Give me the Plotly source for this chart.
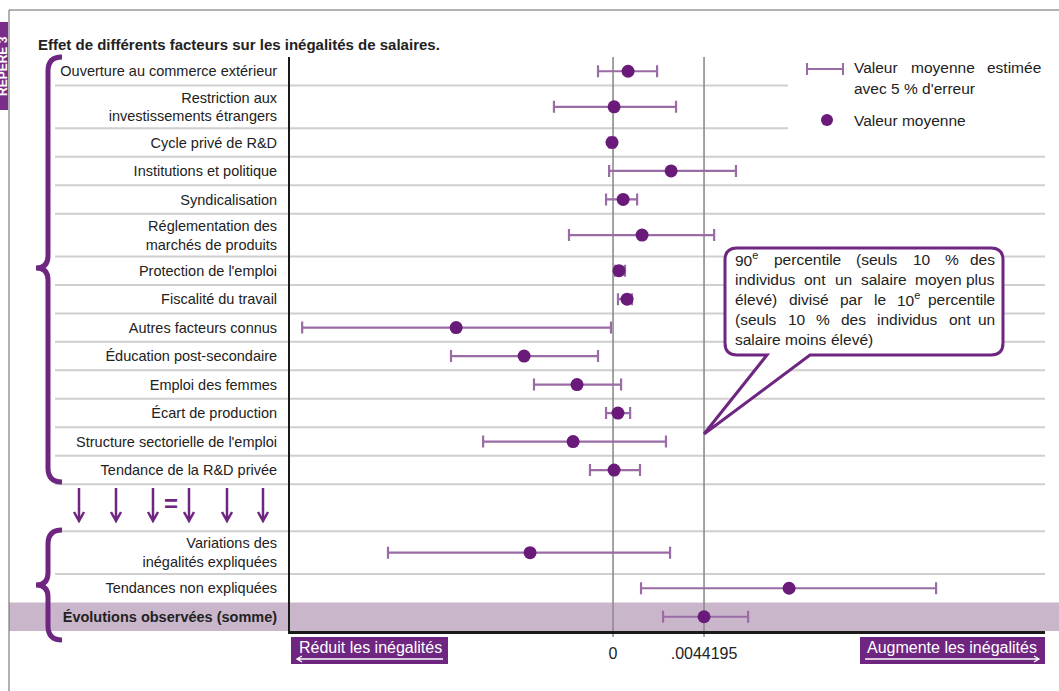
import plotly.graph_objects as go

# ---- data -------------------------------------------------------------
factor_labels = [
    "Ouverture au commerce extérieur",
    "Restriction aux<br>investissements étrangers",
    "Cycle privé de R&D",
    "Institutions et politique",
    "Syndicalisation",
    "Réglementation des<br>marchés de produits",
    "Protection de l'emploi",
    "Fiscalité du travail",
    "Autres facteurs connus",
    "Éducation post-secondaire",
    "Emploi des femmes",
    "Écart de production",
    "Structure sectorielle de l'emploi",
    "Tendance de la R&D privée",
]
factor_mean = [0.00073, 0.00005, -0.00005, 0.00282, 0.00049, 0.00141, 0.00029,
               0.00068, -0.00762, -0.00432, -0.00175, 0.00024, -0.00194, 0.00005]
factor_low = [-0.00073, -0.00287, -0.00019, -0.00019, -0.00034, -0.00214, 0.00010,
              0.00024, -0.01510, -0.00787, -0.00384, -0.00034, -0.00631, -0.00112]
factor_high = [0.00214, 0.00306, 0.00010, 0.00597, 0.00117, 0.00491, 0.00058,
               0.00092, -0.00010, -0.00073, 0.00039, 0.00083, 0.00257, 0.00131]

summary_labels = [
    "Variations des<br>inégalités expliquées",
    "Tendances non expliquées",
    "<b>Évolutions observées (somme)</b>",
]
summary_mean = [-0.00403, 0.00855, 0.0044195]
summary_low = [-0.01093, 0.00136, 0.00243]
summary_high = [0.00277, 0.01569, 0.00656]

tick_values = [0, 0.0044195]
tick_text = ["0", ".0044195"]

bubble_lines = [
    ["90<sup>e</sup>", "percentile", "(seuls", "10", "%", "des"],
    ["individus", "ont", "un", "salaire", "moyen", "plus"],
    ["élevé)", "divisé", "par", "le", "10<sup>e</sup>", "percentile"],
    ["(seuls", "10", "%", "des", "individus", "ont", "un"],
    ["salaire", "moins", "élevé)"],
]

# ---- layout helpers -----------------------------------------------------
W, H = 1059, 691
L, R, T, B = 290, 1045, 57, 631          # plot area in pixels

# relative row heights (two-line labels are taller, the arrow row taller still)
factor_span = [1, 1.5, 1, 1, 1, 1.5, 1, 1, 1, 1, 1, 1, 1, 1]
arrow_span = 1.65
summary_span = [1.5, 1, 1]

spans = factor_span + [arrow_span] + summary_span
bounds = [0.0]
for s in spans:
    bounds.append(bounds[-1] + s)
total = bounds[-1]
centers = [(bounds[i] + bounds[i + 1]) / 2 for i in range(len(spans))]
n_f = len(factor_span)
factor_y = centers[:n_f]
summary_y = centers[n_f + 1:]


def fx(xp):
    return (xp - L) / (R - L)


def fy(yp):
    return (B - yp) / (B - T)


def fu(u):
    return 1 - u / total


def path(cmds):
    out = []
    for c in cmds:
        if isinstance(c, str):
            out.append(c)
        else:
            out.append(f"{fx(c[0]):.5f},{fy(c[1]):.5f}")
    return " ".join(out)


# Arial / Liberation Sans advance widths (1/1000 em) for justified text
ADV = {" ": 278, "(": 333, ")": 333, "%": 889, "'": 191, "é": 556, "è": 556,
       "f": 278, "i": 222, "j": 222, "l": 222, "m": 833, "r": 333, "t": 278,
       "c": 500, "k": 500, "s": 500, "v": 500, "x": 500, "y": 500, "z": 500, "w": 722}


def word_width(word, size):
    sup = 0.0
    if "<sup>" in word:
        base, rest = word.split("<sup>")
        sup = sum(ADV.get(ch, 556) for ch in rest.replace("</sup>", "")) * 0.7
        word = base
    return (sum(ADV.get(ch, 556) for ch in word) + sup) * size / 1000


DOT = "#6a1b7a"
BAR = "#9a6ca6"
PURPLE = "#6e2681"
BAND = "#cab6cb"
GRID = "#cfcfcf"
FONT = "Liberation Sans, Arial, Helvetica, sans-serif"

fig = go.Figure()

all_mean = factor_mean + summary_mean
all_low = factor_low + summary_low
all_high = factor_high + summary_high
all_y = factor_y + summary_y

fig.add_trace(go.Scatter(
    x=all_mean, y=all_y, mode="markers",
    marker=dict(size=13, color=DOT),
    error_x=dict(type="data", symmetric=False,
                 array=[h - m for h, m in zip(all_high, all_mean)],
                 arrayminus=[m - lo for m, lo in zip(all_mean, all_low)],
                 color=BAR, thickness=2.2, width=6),
    showlegend=False, hoverinfo="x",
))

shapes = []
# highlighted total row
shapes.append(dict(type="rect", xref="paper", yref="paper", layer="below",
                   x0=fx(9), x1=fx(W + 2), y0=fu(bounds[-2]), y1=fu(bounds[-1]),
                   fillcolor=BAND, line_width=0))
# row separators
for i, b in enumerate(bounds[1:-2], start=1):
    x_end = fx(788) if i <= 2 else 1
    shapes.append(dict(type="line", xref="paper", yref="paper", layer="below",
                       x0=fx(55), x1=x_end, y0=fu(b), y1=fu(b),
                       line=dict(color=GRID, width=2)))
# vertical reference lines at 0 and the observed total
for v in tick_values:
    shapes.append(dict(type="line", xref="x", yref="paper", layer="below",
                       x0=v, x1=v, y0=-0.01, y1=1,
                       line=dict(color="#8c8c8c", width=1.6)))


# curly braces
def brace(y0, ym, y1):
    return path(["M", (62, y0), "Q", (48, y0), (48, y0 + 14), "L", (48, ym - 12),
                 "Q", (48, ym), (36, ym), "Q", (48, ym), (48, ym + 12),
                 "L", (48, y1 - 14), "Q", (48, y1), (62, y1)])


shapes.append(dict(type="path", xref="paper", yref="paper",
                   path=brace(57, 268, 482), line=dict(color=PURPLE, width=5)))
shapes.append(dict(type="path", xref="paper", yref="paper",
                   path=brace(530, 585, 640), line=dict(color=PURPLE, width=5)))

# down arrows between the two groups
for ax in [79, 116, 153, 189, 227, 263]:
    shapes.append(dict(type="path", xref="paper", yref="paper",
                       path=path(["M", (ax, 488), "L", (ax, 521), "M", (ax - 5, 512),
                                  "L", (ax, 521), "L", (ax + 5, 512)]),
                       line=dict(color=PURPLE, width=2.5)))

# legend marks
shapes.append(dict(type="path", xref="paper", yref="paper",
                   path=path(["M", (807, 69), "L", (843, 69), "M", (807, 63), "L", (807, 75),
                              "M", (843, 63), "L", (843, 75)]),
                   line=dict(color=BAR, width=2)))
shapes.append(dict(type="circle", xref="paper", yref="paper",
                   x0=fx(821), x1=fx(833), y0=fy(126), y1=fy(114),
                   fillcolor=DOT, line_width=0))

# speech bubble
bx0, bx1, by0, by1, r = 725, 1003, 248, 355, 12
bubble = path([
    "M", (bx0 + r, by0), "L", (bx1 - r, by0), "Q", (bx1, by0), (bx1, by0 + r),
    "L", (bx1, by1 - r), "Q", (bx1, by1), (bx1 - r, by1),
    "L", (810, by1), "L", (704, 434), "L", (767, by1),
    "L", (bx0 + r, by1), "Q", (bx0, by1), (bx0, by1 - r),
    "L", (bx0, by0 + r), "Q", (bx0, by0), (bx0 + r, by0), "Z"])
shapes.append(dict(type="path", xref="paper", yref="paper", layer="above",
                   path=bubble, fillcolor="white", line=dict(color=PURPLE, width=3)))

# direction boxes under the axis
for x0, x1, head in [(291, 448, "left"), (860, 1045, "right")]:
    shapes.append(dict(type="rect", xref="paper", yref="paper",
                       x0=fx(x0), x1=fx(x1), y0=fy(664), y1=fy(637),
                       fillcolor=PURPLE, line_width=0))
    if head == "left":
        p = ["M", (x0 + 6, 659), "L", (x1 - 5, 659), "M", (x0 + 11, 656),
             "L", (x0 + 6, 659), "L", (x0 + 11, 662)]
    else:
        p = ["M", (x0 + 5, 659), "L", (x1 - 6, 659), "M", (x1 - 11, 656),
             "L", (x1 - 6, 659), "L", (x1 - 11, 662)]
    shapes.append(dict(type="path", xref="paper", yref="paper", path=path(p),
                       line=dict(color="white", width=1.4)))

# page frame and side tab
shapes.append(dict(type="path", xref="paper", yref="paper",
                   path=path(["M", (9, H + 2), "L", (9, 10), "L", (W + 2, 10)]),
                   line=dict(color="#666", width=1)))
shapes.append(dict(type="rect", xref="paper", yref="paper",
                   x0=fx(-2), x1=fx(8), y0=fy(110), y1=fy(22),
                   fillcolor="#7b2d8b", line_width=0))

annotations = []


def text(x, y, s, size=15, anchor="left", color="#222", **kw):
    annotations.append(dict(x=fx(x), y=fy(y), xref="paper", yref="paper", text=s,
                            showarrow=False, xanchor=anchor, yanchor="middle",
                            font=dict(family=FONT, size=size, color=color), **kw))


text(36, 44, "<b>Effet de différents facteurs sur les inégalités de salaires.</b>", 15)
text(171, 503, "<b>=</b>", 24, "center", PURPLE)

text(852, 68, "Valeur", 15.5)
text(943, 68, "moyenne", 15.5, "center")
text(1043, 68, "estimée", 15.5, "right")
text(852, 88, "avec 5 % d'erreur", 15.5)
text(852, 120, "Valeur moyenne", 15.5)

# justified paragraph inside the bubble
BUB_SIZE = 15.5
left_edge, right_edge = 733, 997
for i, words in enumerate(bubble_lines):
    yline = 259 + 20 * i
    widths = [word_width(w, BUB_SIZE) for w in words]
    last = i == len(bubble_lines) - 1
    if not last:
        gap = (right_edge - left_edge - sum(widths)) / (len(words) - 1)
    else:
        gap = word_width(" ", BUB_SIZE)
    xpos = left_edge
    for j, (w, wd) in enumerate(zip(words, widths)):
        if not last and j == len(words) - 1:
            text(right_edge, yline, w, BUB_SIZE, "right")
        else:
            text(xpos, yline, w, BUB_SIZE, "left")
        xpos += wd + gap

text(370, 647, "Réduit les inégalités", 16, "center", "white")
text(952, 647, "Augmente les inégalités", 16, "center", "white")
text(3, 66, "<b>REPÈRE 3</b>", 12, "center", "white", textangle=-90)

fig.update_layout(
    width=W, height=H,
    margin=dict(l=L, r=W - R, t=T, b=H - B, pad=0),
    paper_bgcolor="white", plot_bgcolor="rgba(0,0,0,0)",
    font=dict(family=FONT, size=15, color="#222"),
    shapes=shapes, annotations=annotations,
    xaxis=dict(range=[-0.01569, 0.02098], tickvals=tick_values, ticktext=tick_text,
               showgrid=False, zeroline=False, showline=True, linecolor="#1a1a1a",
               linewidth=2.5, ticks="", ticklabelstandoff=6,
               tickfont=dict(family=FONT, size=16, color="#222")),
    yaxis=dict(range=[total, 0], tickvals=factor_y + summary_y,
               ticktext=factor_labels + summary_labels,
               showgrid=False, zeroline=False, showline=True, linecolor="#1a1a1a",
               linewidth=2, ticks="", ticklabelstandoff=8,
               tickfont=dict(family=FONT, size=14.5, color="#222")),
)

fig.write_html("out.html")
